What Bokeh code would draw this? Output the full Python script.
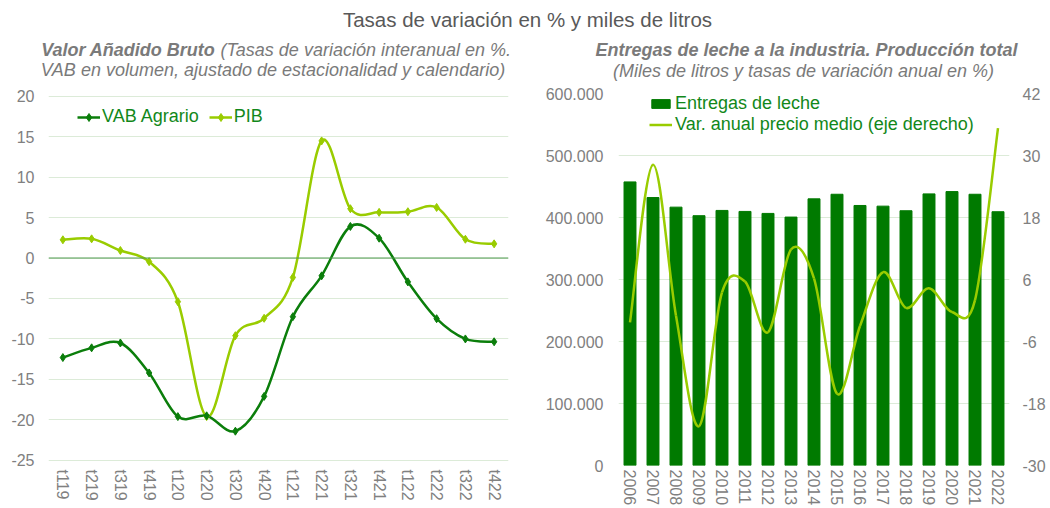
from bokeh.plotting import figure
from bokeh.models import (Range1d, LinearAxis, FixedTicker, Span, Legend, LegendItem,
                          ColumnDataSource)
from bokeh.layouts import column, row
from bokeh.core.properties import value
from bokeh.embed import file_html
from bokeh.resources import INLINE

# ---------------- data ----------------
quarters = ["t119", "t219", "t319", "t419", "t120", "t220", "t320", "t420",
            "t121", "t221", "t321", "t421", "t122", "t222", "t322", "t422"]
vab_agrario = [-12.3, -11.1, -10.5, -14.2, -19.6, -19.5, -21.4, -17.1,
               -7.25, -2.2, 3.9, 2.45, -2.95, -7.5, -10.0, -10.35]
pib = [2.25, 2.37, 0.93, -0.45, -5.4, -19.6, -9.6, -7.45,
       -2.4, 14.47, 6.09, 5.64, 5.72, 6.25, 2.32, 1.75]
left_ticks = [-25, -20, -15, -10, -5, 0, 5, 10, 15, 20]
left_tick_labels = ["-25", "-20", "-15", "-10", "-5", "0", "5", "10", "15", "20"]

years = ["2006", "2007", "2008", "2009", "2010", "2011", "2012", "2013", "2014",
         "2015", "2016", "2017", "2018", "2019", "2020", "2021", "2022"]
entregas = [457400, 432200, 416700, 402900, 411400, 409800, 406600, 400700, 430100,
            437500, 419400, 418300, 410900, 438100, 441800, 437500, 409300]
var_precio = [-2.3, 28.2, -1.0, -22.4, 3.5, 5.6, -4.2, 11.8, 6.2,
              -16.1, -3.0, 7.4, 0.5, 4.3, -0.3, 2.0, 35.3]
left_axis_ticks = [0, 100000, 200000, 300000, 400000, 500000, 600000]
left_axis_labels = ["0", "100.000", "200.000", "300.000", "400.000", "500.000", "600.000"]
right_axis_ticks = [-30, -18, -6, 6, 18, 30, 42]
right_axis_labels = ["-30", "-18", "-6", "6", "18", "30", "42"]

title_text = "Tasas de variación en % y miles de litros"
sub_left_bold = "Valor Añadido Bruto"
sub_left_rest = "(Tasas de variación interanual en %."
sub_left_2 = "VAB en volumen,  ajustado de estacionalidad y calendario)"
sub_right_1 = "Entregas de leche a la industria. Producción total"
sub_right_2 = "(Miles de litros y tasas de variación anual en %)"

# ---------------- styles ----------------
DARK = "#0B7E0B"
LIGHT = "#99CC00"
BAR = "#007A00"
GRID = "#DCEBD8"
TICK = "#808080"
LEG = "#12881A"
SUB = "#7A7A7A"
FONT = "Liberation Sans"


def smooth(xs, ys):
    n = len(xs)
    out = dict(x0=[], y0=[], x1=[], y1=[], cx0=[], cy0=[], cx1=[], cy1=[])
    for i in range(n - 1):
        xm, ym = xs[max(i - 1, 0)], ys[max(i - 1, 0)]
        xa, ya = xs[i], ys[i]
        xb, yb = xs[i + 1], ys[i + 1]
        xp, yp = xs[min(i + 2, n - 1)], ys[min(i + 2, n - 1)]
        out["x0"].append(xa); out["y0"].append(ya)
        out["x1"].append(xb); out["y1"].append(yb)
        out["cx0"].append(xa + (xb - xm) / 6.0); out["cy0"].append(ya + (yb - ym) / 6.0)
        out["cx1"].append(xb - (xp - xa) / 6.0); out["cy1"].append(yb - (yp - ya) / 6.0)
    return out


def base_fig(w, h, **kw):
    f = figure(width=w, height=h, output_backend="svg", toolbar_location=None, **kw)
    f.outline_line_color = None
    f.background_fill_color = "white"
    f.border_fill_color = "white"
    return f


def style_xaxis(ax, labels):
    ax.ticker = FixedTicker(ticks=list(range(len(labels))))
    ax.major_label_overrides = {i: s for i, s in enumerate(labels)}
    ax.major_label_orientation = "vertical"
    ax.axis_line_color = None
    ax.major_tick_line_color = None
    ax.minor_tick_line_color = None
    ax.major_tick_out = 0
    ax.major_tick_in = 0
    ax.major_label_text_font = FONT
    ax.major_label_text_font_size = "16px"
    ax.major_label_text_color = TICK
    ax.major_label_standoff = 4


def style_yaxis(ax, ticks, labels, standoff):
    ax.ticker = FixedTicker(ticks=ticks)
    ax.major_label_overrides = {t: s for t, s in zip(ticks, labels)}
    ax.axis_line_color = None
    ax.major_tick_line_color = None
    ax.minor_tick_line_color = None
    ax.major_tick_out = 0
    ax.major_tick_in = 0
    ax.major_label_text_font = FONT
    ax.major_label_text_font_size = "16px"
    ax.major_label_text_color = TICK
    ax.major_label_standoff = standoff


# ---------------- header ----------------
hdr = base_fig(1050, 86, x_range=Range1d(0, 1050), y_range=Range1d(86, 0), min_border=0)
hdr.axis.visible = False
hdr.grid.visible = False
hdr.text(x=[527], y=[19], text=[title_text], text_font=value(FONT),
         text_font_size="20.5px", text_color="#595959", text_align="center",
         text_baseline="middle")
hdr.text(x=[215], y=[49], text=[sub_left_bold], text_font=value(FONT),
         text_font_size="18px", text_font_style="bold italic", text_color=SUB,
         text_align="right", text_baseline="middle")
hdr.text(x=[220], y=[49], text=[sub_left_rest], text_font=value(FONT),
         text_font_size="18px", text_font_style="italic", text_color=SUB,
         text_align="left", text_baseline="middle")
hdr.text(x=[275], y=[69], text=[sub_left_2], text_font=value(FONT),
         text_font_size="18px", text_font_style="italic", text_color=SUB,
         text_align="center", text_baseline="middle")
hdr.text(x=[806], y=[49], text=[sub_right_1], text_font=value(FONT),
         text_font_size="18px", text_font_style="bold italic", text_color=SUB,
         text_align="center", text_baseline="middle")
hdr.text(x=[803], y=[70], text=[sub_right_2], text_font=value(FONT),
         text_font_size="18px", text_font_style="italic", text_color=SUB,
         text_align="center", text_baseline="middle")

# ---------------- left chart ----------------
n = len(quarters)
xq = list(range(n))
pl = base_fig(540, 422, x_range=Range1d(-0.5, n - 0.5), y_range=Range1d(-25.64, 20.33),
              min_border_left=48, min_border_right=32, min_border_top=7,
              min_border_bottom=40)
style_xaxis(pl.xaxis[0], quarters)
pl.xgrid.visible = False
pl.ygrid.ticker = FixedTicker(ticks=left_ticks)
pl.ygrid.grid_line_color = GRID
style_yaxis(pl.yaxis[0], left_ticks, left_tick_labels, 14)

pl.add_layout(Span(location=0, dimension="width", line_color="#4E9A4E", line_width=1))

sv = smooth(xq, vab_agrario)
sp = smooth(xq, pib)
pl.bezier(source=ColumnDataSource(sp), x0="x0", y0="y0", x1="x1", y1="y1",
          cx0="cx0", cy0="cy0", cx1="cx1", cy1="cy1", line_color=LIGHT, line_width=2.5)
pl.bezier(source=ColumnDataSource(sv), x0="x0", y0="y0", x1="x1", y1="y1",
          cx0="cx0", cy0="cy0", cx1="cx1", cy1="cy1", line_color=DARK, line_width=2.5)
mp = pl.scatter(xq, pib, marker="diamond", size=8, color=LIGHT)
mv = pl.scatter(xq, vab_agrario, marker="diamond", size=8, color=DARK)
# single-point line renderers (invisible in plot) used only for the legend glyphs
lv = pl.line(xq[:1], vab_agrario[:1], line_color=DARK, line_width=2.5)
lp = pl.line(xq[:1], pib[:1], line_color=LIGHT, line_width=2.5)
leg_l = Legend(items=[LegendItem(label="VAB Agrario", renderers=[lv, mv]),
                      LegendItem(label="PIB", renderers=[lp, mp])],
               orientation="horizontal", location=(29, 338),
               label_text_font=FONT, label_text_font_size="18px",
               label_text_color=LEG, glyph_width=23, label_standoff=2, spacing=10,
               padding=0, margin=0, border_line_color=None, background_fill_alpha=0)
pl.add_layout(leg_l)

# ---------------- right chart ----------------
m = len(years)
xy = list(range(m))
pr = base_fig(510, 422, x_range=Range1d(-0.5, m - 0.5), y_range=Range1d(0, 600000),
              min_border_left=78, min_border_right=41, min_border_top=7,
              min_border_bottom=40)
pr.extra_y_ranges = {"pct": Range1d(-30, 42)}
style_xaxis(pr.xaxis[0], years)
pr.xgrid.visible = False
pr.ygrid.ticker = FixedTicker(ticks=left_axis_ticks)
pr.ygrid.grid_line_color = GRID
style_yaxis(pr.yaxis[0], left_axis_ticks, left_axis_labels, 15)
ry = LinearAxis(y_range_name="pct")
style_yaxis(ry, right_axis_ticks, right_axis_labels, 13)
pr.add_layout(ry, "right")

bars = pr.vbar(x=xy, top=entregas, width=0.52, color=BAR)
spr = smooth(xy, var_precio)
pr.bezier(source=ColumnDataSource(spr), x0="x0", y0="y0", x1="x1", y1="y1",
          cx0="cx0", cy0="cy0", cx1="cx1", cy1="cy1", line_color=LIGHT, line_width=2.5,
          y_range_name="pct")
lr = pr.line(xy[:1], var_precio[:1], line_color=LIGHT, line_width=2.5, y_range_name="pct")
leg_r = Legend(items=[LegendItem(label="Entregas de leche", renderers=[bars]),
                      LegendItem(label="Var. anual precio medio (eje derecho)", renderers=[lr])],
               orientation="vertical", location=(31, 330),
               label_text_font=FONT, label_text_font_size="18px",
               label_text_color=LEG, glyph_width=23, glyph_height=11, label_height=21,
               label_standoff=3, spacing=0,
               padding=0, margin=0, border_line_color=None, background_fill_alpha=0)
pr.add_layout(leg_r)

layout = column(hdr, row(pl, pr))
open("out.html", "w").write(file_html(layout, INLINE))
